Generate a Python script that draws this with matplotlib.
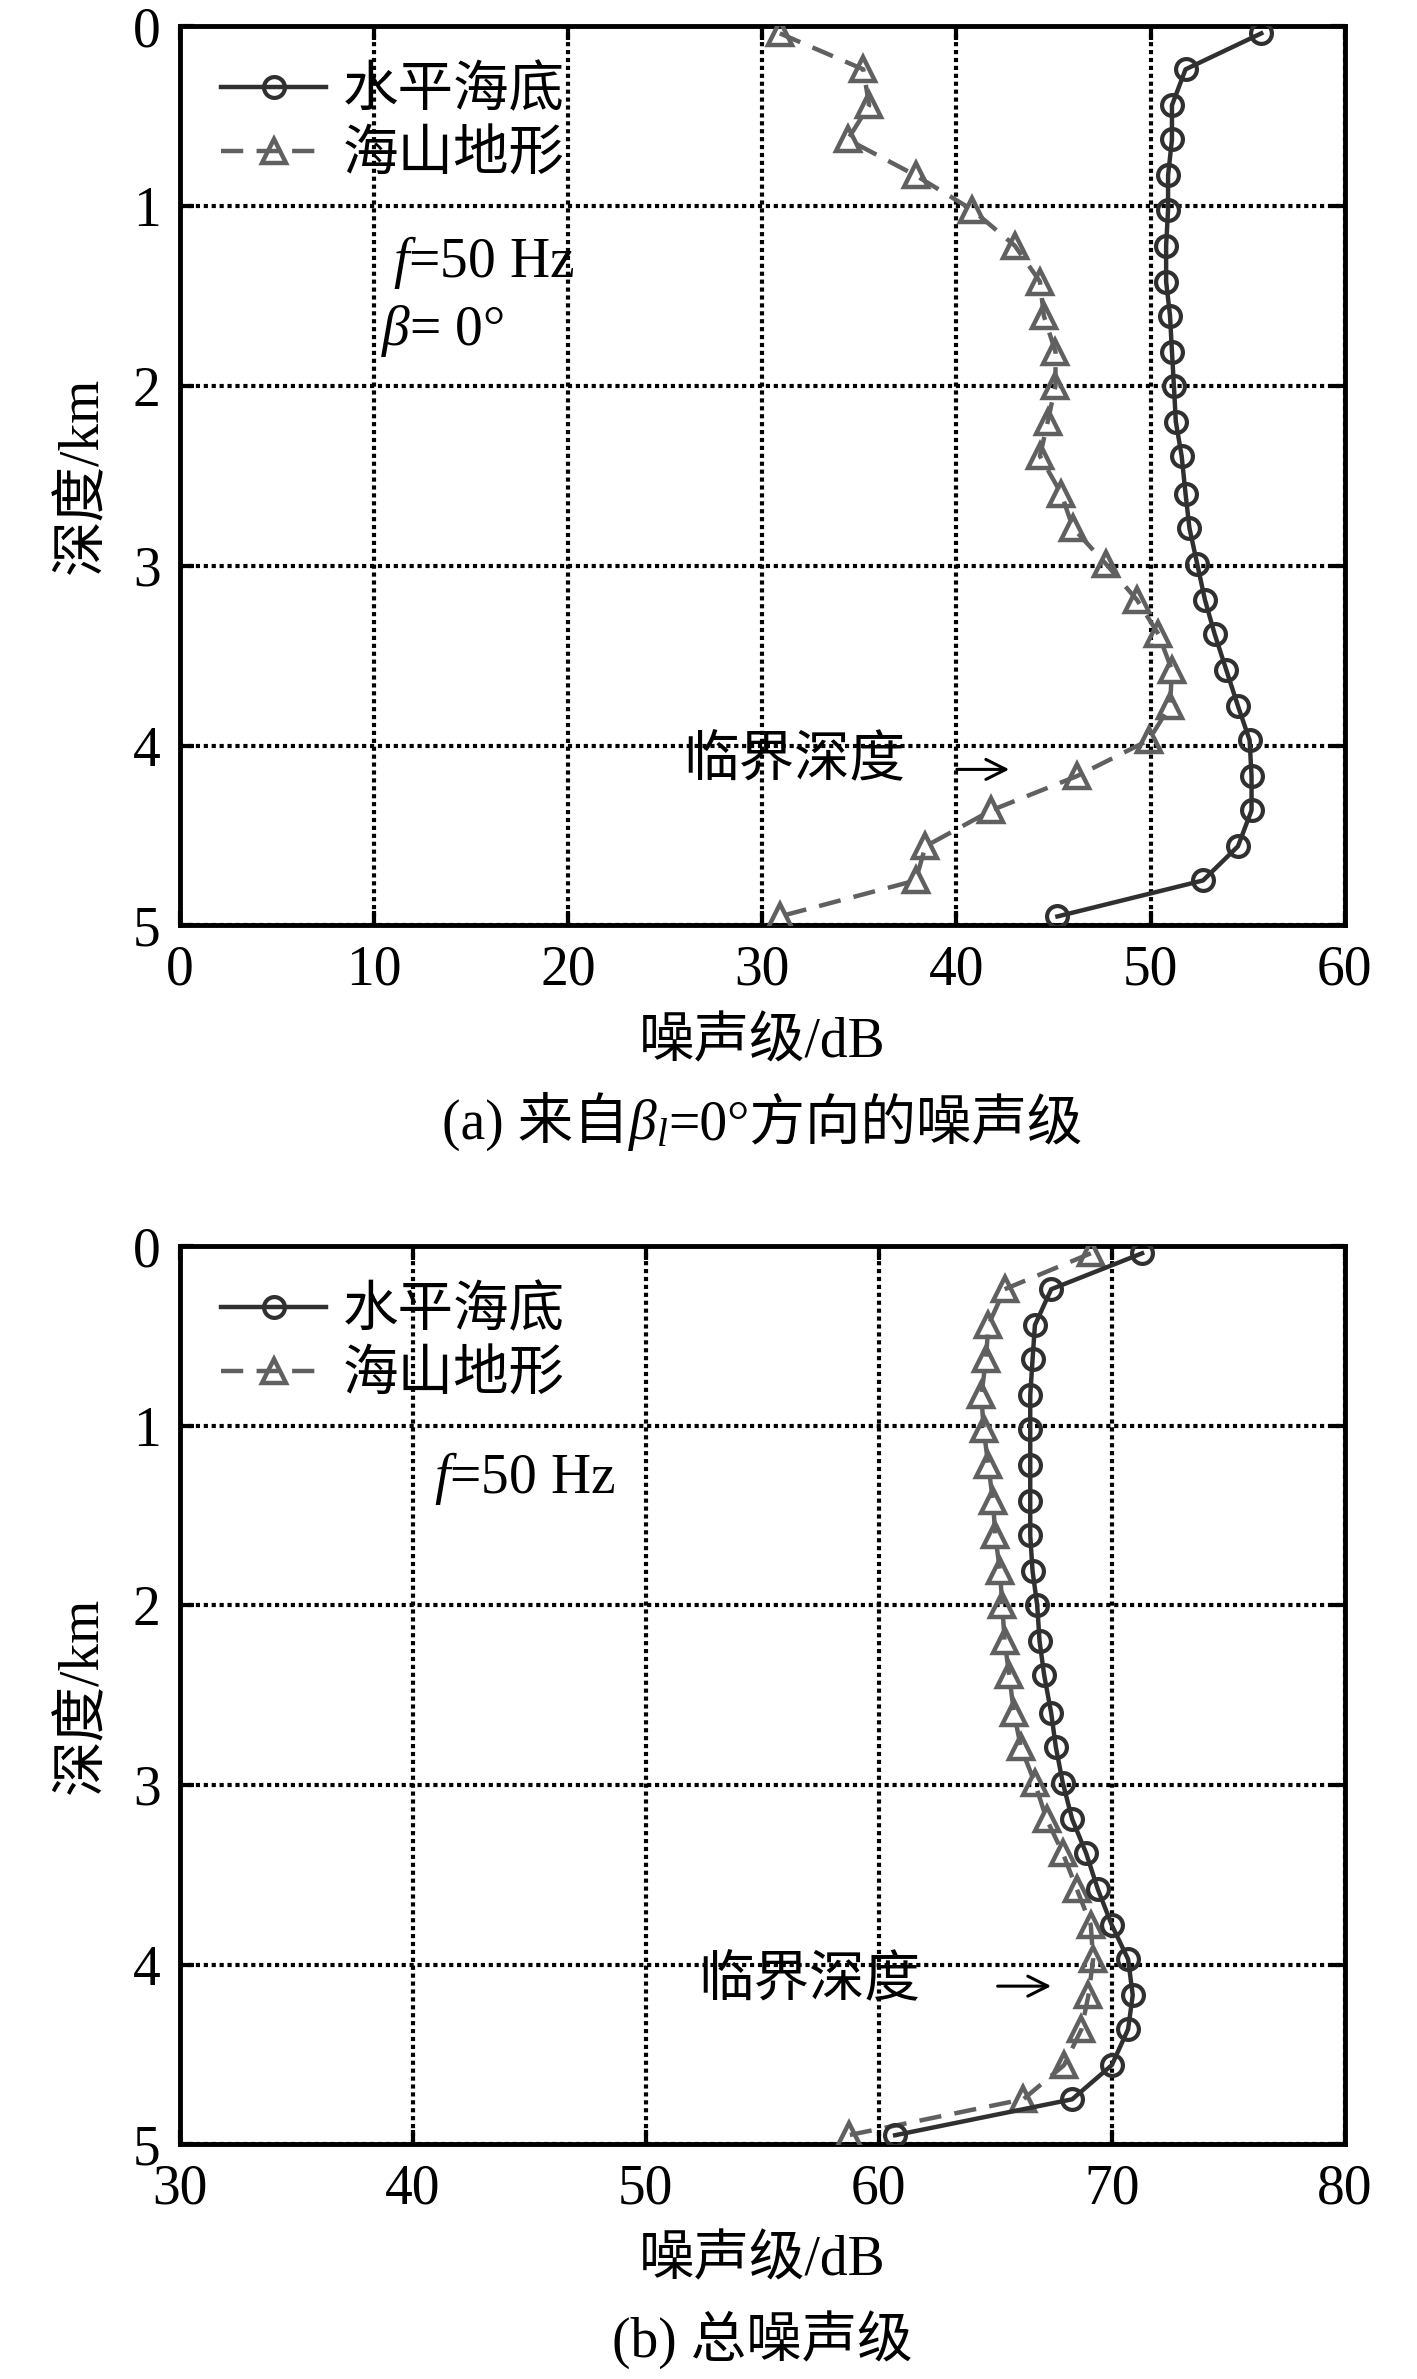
import matplotlib
matplotlib.use('Agg')
import matplotlib.pyplot as plt
from matplotlib.offsetbox import TextArea, HPacker, AnnotationBbox

# 字体：数字用 Times 类衬线体，中文回退到 Noto CJK
plt.rcParams['font.family'] = ['Liberation Serif', 'Noto Sans CJK SC', 'DejaVu Sans']
plt.rcParams['mathtext.fontset'] = 'custom'
plt.rcParams['mathtext.rm'] = 'Liberation Serif'
plt.rcParams['mathtext.it'] = 'Liberation Serif:italic'
plt.rcParams['axes.unicode_minus'] = False

FS = 40

# 深度 (km)
depth = [0.04, 0.24, 0.44, 0.63, 0.83, 1.02, 1.22, 1.42, 1.61, 1.81, 2.0, 2.2, 2.39,
         2.6, 2.79, 2.99, 3.19, 3.38, 3.58, 3.78, 3.97, 4.17, 4.36, 4.56, 4.75, 4.95]

# (a) 来自 beta_l = 0° 方向的噪声级
flat_a = [55.7, 51.8, 51.1, 51.1, 50.9, 50.9, 50.8, 50.8, 51.0, 51.1, 51.2, 51.3, 51.6,
          51.8, 52.0, 52.4, 52.8, 53.3, 53.9, 54.5, 55.1, 55.2, 55.2, 54.5, 52.7, 45.2]
mount_a = [30.9, 35.2, 35.5, 34.4, 37.9, 40.8, 43.0, 44.3, 44.5, 45.1, 45.1, 44.7, 44.3,
           45.4, 46.0, 47.7, 49.3, 50.4, 51.1, 51.0, 49.9, 46.2, 41.8, 38.4, 37.9, 30.9]

# (b) 总噪声级
flat_b = [71.3, 67.4, 66.7, 66.6, 66.5, 66.5, 66.5, 66.5, 66.5, 66.6, 66.8, 66.9, 67.1,
          67.4, 67.6, 67.9, 68.3, 68.9, 69.4, 70.0, 70.7, 70.9, 70.7, 70.0, 68.3, 60.7]
mount_b = [69.1, 65.4, 64.7, 64.6, 64.4, 64.5, 64.7, 64.9, 65.0, 65.2, 65.3, 65.4, 65.6,
           65.8, 66.1, 66.7, 67.2, 67.9, 68.5, 69.1, 69.2, 69.0, 68.7, 67.95, 66.2, 58.7]

labels = ['水平海底', '海山地形']
xticks_a = [0, 10, 20, 30, 40, 50, 60]
xticks_b = [30, 40, 50, 60, 70, 80]
yticks = [0, 1, 2, 3, 4, 5]


def caption(ax, parts, y):
    areas = [TextArea(p, textprops=dict(fontsize=FS)) for p in parts]
    box = HPacker(children=areas, align='baseline', pad=0, sep=0)
    ab = AnnotationBbox(box, (0.5, y), xycoords='axes fraction', frameon=False,
                        box_alignment=(0.5, 0.5), annotation_clip=False)
    ax.add_artist(ab)


def arrow(ax, x0, x1, y):
    ax.annotate('', xy=(x1, y), xytext=(x0, y), xycoords='axes fraction',
                arrowprops=dict(arrowstyle='->', color='k', lw=2.2,
                                mutation_scale=36, shrinkA=0, shrinkB=0))


def draw_panel(ax, flat, mount, xticks):
    ax.plot(flat, depth, '-o', color='#303030', lw=3.2, ms=15, mfc='none',
            mew=3.0, label=labels[0], zorder=4)
    ax.plot(mount, depth, '--^', color='#606060', lw=3.2, ms=17, mfc='none',
            mew=3.2, dashes=(5, 3), label=labels[1], zorder=3)
    ax.set_xlim(xticks[0], xticks[-1])
    ax.set_ylim(5, 0)
    ax.set_xticks(xticks)
    ax.set_yticks(yticks)
    ax.set_axisbelow(True)
    ax.grid(True, color='k', linestyle=(0, (1, 0.9)), linewidth=3.0)
    for s in ax.spines.values():
        s.set_linewidth(3.5)
    ax.tick_params(direction='in', length=10, width=3, labelsize=FS, pad=14,
                   top=True, right=True)
    ax.set_ylabel('深度/km', fontsize=FS)
    ax.yaxis.set_label_coords(-0.083, 0.5)
    ax.yaxis.label.set_va('center')
    ax.set_xlabel('噪声级/dB', fontsize=FS)
    ax.xaxis.set_label_coords(0.5, -0.131)
    ax.xaxis.label.set_va('center')
    ax.legend(loc='upper left', bbox_to_anchor=(0.035, 0.955), frameon=False,
              borderaxespad=0, borderpad=0, handlelength=1.9, handletextpad=0.3,
              labelspacing=0.22, fontsize=FS)


fig = plt.figure(figsize=(14.17, 23.79), dpi=100)
ax_a = fig.add_axes([0.127, 0.611, 0.822, 0.378])
ax_b = fig.add_axes([0.127, 0.0987, 0.822, 0.3775])

draw_panel(ax_a, flat_a, mount_a, xticks_a)
ax_a.text(0.183, 0.7375, r'$f$=50 Hz', transform=ax_a.transAxes, fontsize=FS, va='center')
ax_a.text(0.173, 0.661, r'$\beta$= 0°', transform=ax_a.transAxes, fontsize=FS, va='center')
ax_a.text(0.432, 0.181, '临界深度', transform=ax_a.transAxes, fontsize=FS, va='center')
arrow(ax_a, 0.667, 0.712, 0.1735)
caption(ax_a, ['(a) 来自', r'$\beta_l$', '=0°方向的噪声级'], -0.219)

draw_panel(ax_b, flat_b, mount_b, xticks_b)
ax_b.text(0.218, 0.7416, r'$f$=50 Hz', transform=ax_b.transAxes, fontsize=FS, va='center')
ax_b.text(0.445, 0.180, '临界深度', transform=ax_b.transAxes, fontsize=FS, va='center')
arrow(ax_b, 0.702, 0.748, 0.176)
caption(ax_b, ['(b) 总噪声级'], -0.218)

fig.savefig('out.png', dpi=100, facecolor='white')
